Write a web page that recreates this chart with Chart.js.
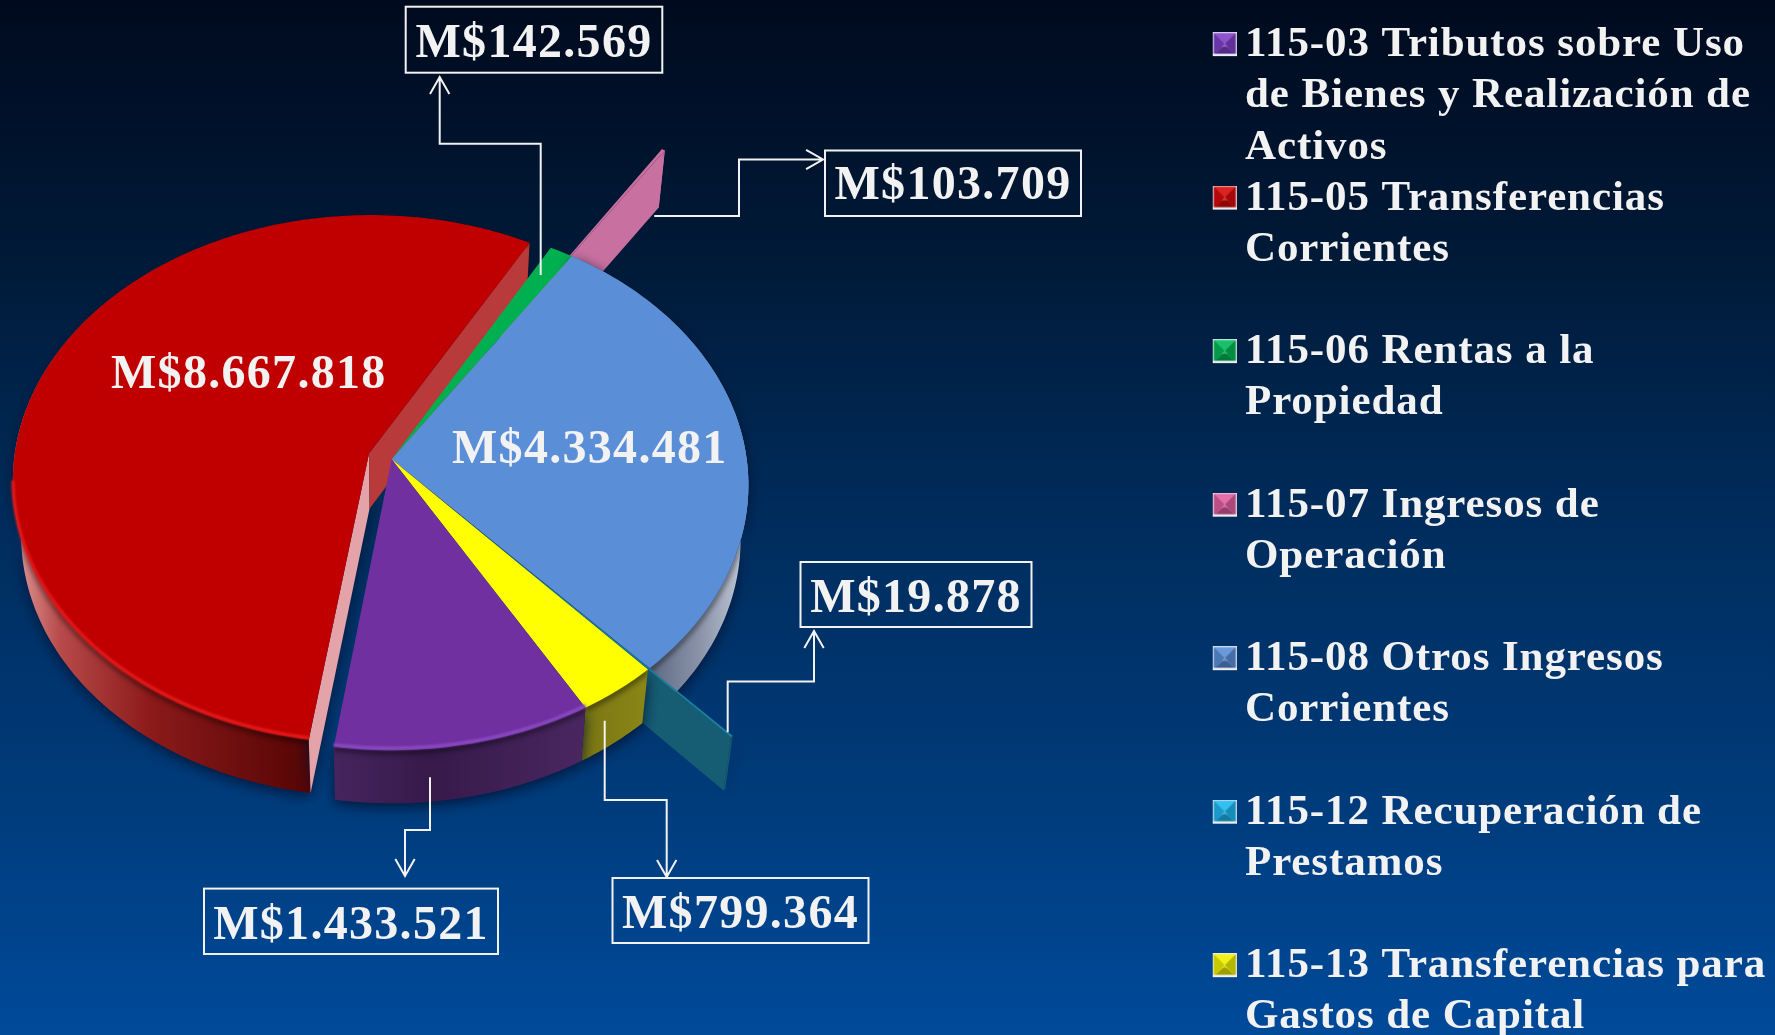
<!DOCTYPE html>
<html lang="es">
<head>
<meta charset="utf-8">
<title>Ingresos</title>
<script src="https://cdn.jsdelivr.net/npm/chart.js@4"></script>
<style>
html,body{margin:0;padding:0;background:#002a5a;overflow:hidden}
canvas{display:block}
</style>
</head>
<body>
<canvas id="c" width="1775" height="1035"></canvas>
<script>
/* ---------- data ---------- */
const categories = ['115-03','115-05','115-06','115-07','115-08','115-12','115-13'];
const legendLines = [
  ['115-03 Tributos sobre Uso','de Bienes y Realización de','Activos'],
  ['115-05 Transferencias','Corrientes',''],
  ['115-06 Rentas a la','Propiedad',''],
  ['115-07 Ingresos de','Operación',''],
  ['115-08 Otros Ingresos','Corrientes',''],
  ['115-12 Recuperación de','Prestamos',''],
  ['115-13 Transferencias para','Gastos de Capital']
];
const values = [1433521, 8667818, 142569, 103709, 4334481, 19878, 799364];
const valueLabels = ['M$1.433.521','M$8.667.818','M$142.569','M$103.709','M$4.334.481','M$19.878','M$799.364'];

/* ---------- styles ---------- */
const sliceColors = ['#7030A0','#C00000','#00B050','#C8709F','#5A8FD8','#1B7F9C','#FFFF00'];
const swatchColors = ['#8040C8','#D80A0A','#00B858','#E060A0','#5B8FD8','#1FB8F0','#F0F000'];
const offsets = [0, 24, 0, 208, 0, 104, 0];
const wallStops = [
  [[334,'#46245e'],[430,'#361a4a'],[585,'#4a2660']],
  [[14,'#e09a9a'],[60,'#b84a4a'],[150,'#8c1a1a'],[312,'#540404']],
  [[540,'#008040'],[570,'#008040']],
  [[600,'#C8709F'],[670,'#C8709F']],
  [[645,'#5a6680'],[700,'#8a93a8'],[735,'#b4bccc'],[750,'#e4e8f0']],
  [[650,'#165a70'],[735,'#165a70']],
  [[582,'#7a7612'],[650,'#8c8716']]
];
const cutStyles = { 1:{start:'#E3A3A8', end:'#B83A3A'}, 3:{end:'#C8709F'}, 5:{end:'#165C72'} };
const rimLights = {0:'#8d4cc4', 1:'#e81c1c'};
const paintOrder = ['w1','t1','w3','t3','t2','w4','w5','t5','t4','w6','t6','w0','t0'];

/* view of the tilted disc */
const view = {ax:391.7, ay:459.3, squash:0.74, persp:0.0971, depth:55, taper:0.022};
/* lens correction of the 3-D view: clockwise-from-top degrees -> added degrees */
const lensDeg = [154.3,187.6,388.9,392.2,394.6,495.3,495.8,514.3];
const lensAdd = [-4.3,0.9,0.2,0.5,-1.3,2.3,2.2,-4.3];

/* call-outs: index of slice, box, leader */
const callouts = [
  {slice:2, box:[405.7,6.7,256.6,66], base:56.5, path:[[540.7,275],[540.7,143.7],[439.7,143.7],[439.7,77]]},
  {slice:3, box:[825,150.5,256,65.5], base:198.5, path:[[654.3,216],[739,216],[739,159.5],[823,159.5]]},
  {slice:5, box:[800.5,562,231,65], base:612, path:[[727.7,732.3],[727.7,681.5],[814,681.5],[814,631]]},
  {slice:0, box:[204,888.6,294,65.4], base:939, path:[[430,777.3],[430,830],[405,830],[405,876]]},
  {slice:6, box:[612.5,878,256,65], base:928, path:[[604.7,720.7],[604.7,800],[666.7,800],[666.7,877]]}
];
const insideLabels = [{slice:1, x:111, y:388},{slice:4, x:452, y:463}];

/* ---------- helpers ---------- */
const FONT = '"Liberation Serif","Times New Roman",serif';
const INK = '#F2F2F2';

function makeSwatch(color){
  const s = 24, dx = 14;
  const c = document.createElement('canvas'); c.width = s+dx; c.height = 26;
  const g = c.getContext('2d');
  g.translate(dx,0);
  g.fillStyle = color; g.fillRect(0,0,s,s);
  const tri = (pts,fill)=>{g.fillStyle=fill;g.beginPath();pts.forEach((p,i)=>i?g.lineTo(p[0],p[1]):g.moveTo(p[0],p[1]));g.closePath();g.fill();};
  const m=s/2;
  tri([[0,0],[s,0],[m,m]],'rgba(255,255,255,.10)');
  tri([[0,0],[0,s],[m,m]],'rgba(0,0,0,.16)');
  tri([[s,0],[s,s],[m,m]],'rgba(0,0,0,.24)');
  tri([[0,s],[s,s],[m,m+1]],'rgba(0,0,0,.34)');
  tri([[m-3,m+3],[m+3,m+3],[m,m-1]],'rgba(255,255,255,.22)');
  g.fillStyle='rgba(235,238,245,.75)';
  g.fillRect(0,0,s,1.2); g.fillRect(0,0,1.2,s); g.fillRect(s-1.2,0,1.2,s);
  g.fillStyle='rgba(245,245,250,.95)'; g.fillRect(0,s-2.4,s,2.4);
  return c;
}

function lens(a){
  let d = a*180/Math.PI + 90;
  while(d < lensDeg[0]) d += 360;
  while(d > lensDeg[lensDeg.length-1]) d -= 360;
  for(let i=1;i<lensDeg.length;i++){
    if(d <= lensDeg[i]){
      const t=(d-lensDeg[i-1])/(lensDeg[i]-lensDeg[i-1]);
      return a + (lensAdd[i-1]+t*(lensAdd[i]-lensAdd[i-1]))*Math.PI/180;
    }
  }
  return a;
}

function geom(chart){
  const meta = chart.getDatasetMeta(0);
  const R = meta.data[0].outerRadius;
  const Q = R*view.squash, p = view.persp;
  const pt = (a,r,oa,off,z)=>{
    const u = r*Math.cos(a)+off*Math.cos(oa), v = r*Math.sin(a)+off*Math.sin(oa);
    const w = 1-p*v, x = R*u/w, y = Q*v/w;
    return [view.ax + x*(1-view.taper*z), view.ay + y*(1-view.taper*z*0.3) + view.depth*z];
  };
  const slice = (i)=>{
    const el = meta.data[i];
    const e0 = el.startAngle, e1 = el.endAngle;
    const a0 = lens(e0), a1 = lens(e1), oa=(a0+a1)/2, off = el.options.offset/R;
    const n = Math.max(2, Math.ceil((e1-e0)/0.02));
    const rim = (z)=>{const out=[];for(let k=0;k<=n;k++){const a=lens(e0+(e1-e0)*k/n);out.push(pt(a,1,oa,off,z));}return out;};
    return {a0,a1,oa,off,rim,apex:(z)=>pt(oa,0,oa,off,z)};
  };
  return {slice};
}
function poly(ctx,pts){ctx.beginPath();pts.forEach((q,i)=>i?ctx.lineTo(q[0],q[1]):ctx.moveTo(q[0],q[1]));}

function drawWall(ctx,g,i){
  const s = g.slice(i), top = s.rim(0), bot = s.rim(1);
  const grad = ctx.createLinearGradient(wallStops[i][0][0],0,wallStops[i][wallStops[i].length-1][0],0);
  const x0=wallStops[i][0][0], x1=wallStops[i][wallStops[i].length-1][0];
  wallStops[i].forEach(t=>grad.addColorStop((t[0]-x0)/(x1-x0),t[1]));
  const wall = top.concat(bot.slice().reverse());
  ctx.save();
  ctx.shadowColor='rgba(0,18,50,.85)'; ctx.shadowBlur=14; ctx.shadowOffsetY=4;
  ctx.fillStyle=grad; poly(ctx,wall); ctx.closePath(); ctx.fill();
  const cuts = cutStyles[i];
  if(cuts){
    const q=(rimPt,rimBot,col)=>{ctx.fillStyle=col;poly(ctx,[s.apex(0),rimPt,rimBot,s.apex(1)]);ctx.closePath();ctx.fill();};
    if(cuts.start) q(top[0],bot[0],cuts.start);
    ctx.shadowColor='transparent';
    if(cuts.end) q(top[top.length-1],bot[bot.length-1],cuts.end);
  }
  ctx.restore();
  /* soft dark band right under the rim */
  ctx.save();
  poly(ctx,wall); ctx.closePath(); ctx.clip();
  ctx.filter='blur(2.5px)'; ctx.strokeStyle='rgba(0,0,0,.45)'; ctx.lineWidth=5;
  poly(ctx,s.rim(0.03)); ctx.stroke();
  ctx.restore();
}
function drawTop(ctx,g,i,color){
  const s=g.slice(i), top=s.rim(0);
  /* the thin green wedge reaches the next visible slice, closing the seam */
  const tail = i===2 ? [g.slice(4).rim(0)[0]] : [];
  ctx.save();
  ctx.fillStyle=color; poly(ctx,[s.apex(0)].concat(top,tail)); ctx.closePath(); ctx.fill();
  if(rimLights[i]){
    const front=top.filter(q=>q[1]>view.ay+20);
    ctx.filter='blur(1px)';
    ctx.strokeStyle=rimLights[i]; ctx.lineWidth=3; poly(ctx,front.map(q=>[q[0],q[1]-2])); ctx.stroke();
  }
  ctx.restore();
}
function arrow(ctx,path){
  const n=path.length, a=path[n-2], b=path[n-1];
  const ang=Math.atan2(b[1]-a[1],b[0]-a[0]), L=19.5, T=0.52;
  ctx.beginPath();
  path.forEach((q,i)=>i?ctx.lineTo(q[0],q[1]):ctx.moveTo(q[0],q[1]));
  ctx.moveTo(b[0]-L*Math.cos(ang-T),b[1]-L*Math.sin(ang-T));
  ctx.lineTo(b[0],b[1]);
  ctx.lineTo(b[0]-L*Math.cos(ang+T),b[1]-L*Math.sin(ang+T));
  ctx.stroke();
}

/* ---------- plugin: backdrop, tilted pie, call-outs ---------- */
const tiltedPie = {
  id:'tiltedPie',
  afterLayout(chart){
    const lg=chart.legend;
    lg.left=1212; lg.right=1775; lg.top=23.6; lg.bottom=2000;
  },
  beforeDraw(chart){
    const {ctx,width,height}=chart;
    const bg=ctx.createLinearGradient(0,0,0,height);
    bg.addColorStop(0,'#000a1e');
    bg.addColorStop(.25,'#001a38');
    bg.addColorStop(.5,'#002c5c');
    bg.addColorStop(.75,'#003a78');
    bg.addColorStop(1,'#004a9a');
    ctx.fillStyle=bg; ctx.fillRect(0,0,width,height);
    ctx.letterSpacing='0.9px';
  },
  beforeDatasetDraw(chart){
    const ctx=chart.ctx, g=geom(chart);
    const colors=chart.data.datasets[0].backgroundColor;
    paintOrder.forEach(tok=>{
      const i=+tok.slice(1);
      if(tok[0]==='w') drawWall(ctx,g,i); else drawTop(ctx,g,i,colors[i]);
    });
    return false;
  },
  afterDraw(chart){
    const ctx=chart.ctx;
    ctx.save();
    ctx.strokeStyle=INK; ctx.fillStyle=INK; ctx.lineWidth=2;
    ctx.font='bold 48px '+FONT; ctx.letterSpacing='1.3px';
    ctx.textBaseline='alphabetic'; ctx.textAlign='left';
    callouts.forEach(c=>{
      ctx.strokeRect(c.box[0],c.box[1],c.box[2],c.box[3]);
      arrow(ctx,c.path);
      const w=ctx.measureText(valueLabels[c.slice]).width;
      ctx.fillText(valueLabels[c.slice], c.box[0]+(c.box[2]-w)/2, c.base);
    });
    insideLabels.forEach(l=>ctx.fillText(valueLabels[l.slice],l.x,l.y));
    ctx.restore();
  }
};

new Chart(document.getElementById('c'),{
  type:'pie',
  data:{labels:categories,datasets:[{
    data:values, backgroundColor:sliceColors, offset:offsets, borderWidth:0
  }]},
  plugins:[tiltedPie],
  options:{
    responsive:false, animation:false, events:[],
    rotation:154.3, radius:355,
    plugins:{
      tooltip:{enabled:false},
      legend:{
        position:'right', align:'start', fullSize:false,
        labels:{
          usePointStyle:true, pointStyleWidth:11.5, padding:0,
          font:{family:FONT,size:43,weight:'bold',lineHeight:1.19},
          generateLabels(chart){
            return legendLines.map((lines,i)=>({
              text:lines, fontColor:INK, hidden:false, index:i, datasetIndex:0,
              fillStyle:swatchColors[i], strokeStyle:swatchColors[i], lineWidth:0,
              pointStyle:makeSwatch(swatchColors[i])
            }));
          }
        }
      }
    }
  }
});
</script>
</body>
</html>
